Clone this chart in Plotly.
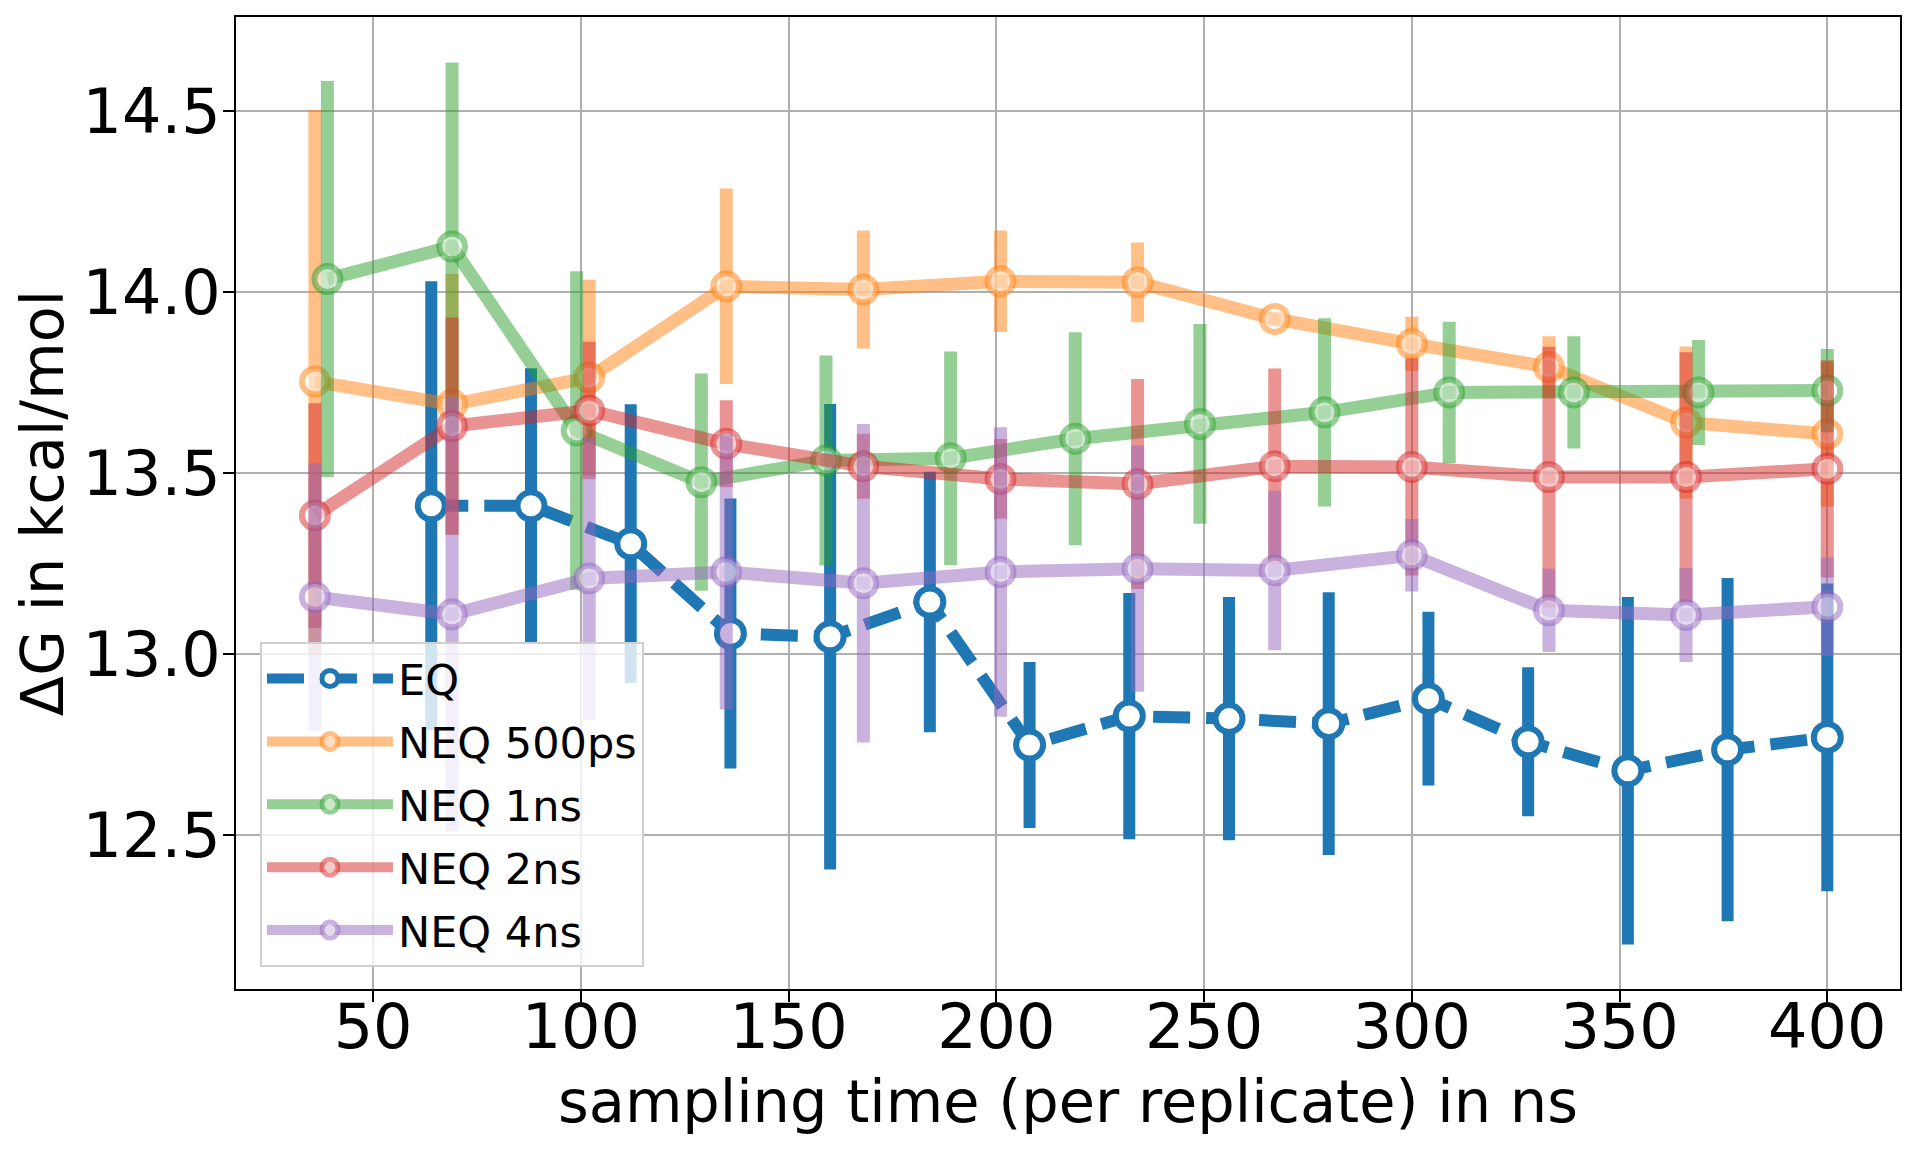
import plotly.graph_objects as go

# ---------------- data ----------------
x_eq = [64, 88, 112, 136, 160, 184, 208, 232, 256, 280, 304, 328, 352, 376, 400]
eq_mean = [13.41, 13.41, 13.305, 13.057, 13.048, 13.144, 12.749, 12.829, 12.822,
           12.808, 12.877, 12.758, 12.678, 12.736, 12.770]
eq_err = [0.62, 0.38, 0.385, 0.373, 0.643, 0.36, 0.229, 0.34, 0.336,
          0.363, 0.24, 0.206, 0.48, 0.474, 0.425]

x_neq = [36, 69, 102, 135, 168, 201, 234, 267, 300, 333, 366, 400]
neq500_mean = [13.753, 13.69, 13.764, 14.016, 14.007, 14.03, 14.027, 13.926,
               13.857, 13.793, 13.64, 13.608]
neq500_err = [0.75, 0.36, 0.27, 0.27, 0.163, 0.14, 0.11, 0.02, 0.075, 0.085, 0.21, 0.2]

x_neq1 = [39, 69, 99, 129, 159, 189, 219, 249, 279, 309, 339, 369, 400]
neq1_mean = [14.036, 14.126, 13.618, 13.475, 13.535, 13.541, 13.595, 13.636,
             13.668, 13.723, 13.723, 13.723, 13.728]
neq1_err = [0.547, 0.508, 0.44, 0.30, 0.29, 0.295, 0.294, 0.276, 0.26,
            0.195, 0.155, 0.145, 0.115]

neq2_mean = [13.383, 13.63, 13.673, 13.581, 13.519, 13.484, 13.47, 13.519,
             13.517, 13.489, 13.489, 13.512]
neq2_err = [0.31, 0.30, 0.19, 0.12, 0.09, 0.11, 0.29, 0.27, 0.30, 0.36, 0.345, 0.30]

neq4_mean = [13.158, 13.11, 13.209, 13.227, 13.196, 13.227, 13.236, 13.231,
             13.273, 13.121, 13.108, 13.131]
neq4_err = [0.37, 0.60, 0.39, 0.38, 0.44, 0.40, 0.34, 0.22, 0.10, 0.115, 0.13, 0.136]

x_ticks = [50, 100, 150, 200, 250, 300, 350, 400]
y_ticks = [12.5, 13.0, 13.5, 14.0, 14.5]
y_tick_labels = ["12.5", "13.0", "13.5", "14.0", "14.5"]

FONT = "DejaVu Sans"

fig = go.Figure()

# EQ (opaque, dashed, open markers)
fig.add_trace(go.Scatter(
    x=x_eq, y=eq_mean, name="EQ", mode="lines+markers",
    legendgroup="g0",
    line=dict(color="#1f77b4", width=12, dash="37px,16px"),
    marker=dict(symbol="circle", size=27, color="white",
                line=dict(color="#1f77b4", width=6)),
    error_y=dict(type="data", array=eq_err, visible=True,
                 color="#1f77b4", thickness=12, width=0),
))

neq = [
    ("NEQ 500ps", x_neq, neq500_mean, neq500_err, (255, 127, 14)),
    ("NEQ 1ns", x_neq1, neq1_mean, neq1_err, (44, 160, 44)),
    ("NEQ 2ns", x_neq, neq2_mean, neq2_err, (214, 39, 40)),
    ("NEQ 4ns", x_neq, neq4_mean, neq4_err, (148, 103, 189)),
]
for i, (name, xs, ys, es, (r, g, b)) in enumerate(neq):
    c = f"rgba({r},{g},{b},0.5)"
    fig.add_trace(go.Scatter(
        x=xs, y=ys, name=name, mode="lines+markers",
        legendgroup=f"g{i+1}",
        line=dict(color=c, width=13),
        marker=dict(symbol="circle", size=26, color="rgba(255,255,255,0.5)",
                    line=dict(color=c, width=6)),
        error_y=dict(type="data", array=es, visible=True,
                     color=c, thickness=13, width=0),
    ))

axis_common = dict(
    showgrid=True, gridcolor="#b0b0b0", gridwidth=2,
    showline=True, linecolor="black", linewidth=2, mirror=True,
    ticks="outside", ticklen=11, tickwidth=2, tickcolor="black",
    zeroline=False,
    tickfont=dict(family=FONT, size=62, color="black"),
)

fig.update_layout(
    width=1912, height=1146,
    margin=dict(l=228, r=20, t=7, b=165),
    paper_bgcolor="white", plot_bgcolor="white",
    font=dict(family=FONT, color="black"),
    showlegend=True,
    legend=dict(
        x=0.0144, y=0.0226, xanchor="left", yanchor="bottom",
        bgcolor="rgba(255,255,255,0.8)", bordercolor="#d0d0d0", borderwidth=2,
        font=dict(family=FONT, size=43, color="black"),
        tracegroupgap=4, itemwidth=126,
    ),
    xaxis=dict(
        range=[17, 417.5], tickvals=x_ticks,
        ticklabelstandoff=-28, automargin=True,
        title=dict(text="sampling time (per replicate) in ns",
                   font=dict(family=FONT, size=59, color="black"), standoff=18),
        **axis_common,
    ),
    yaxis=dict(
        range=[12.075, 14.76], tickvals=y_ticks, ticktext=y_tick_labels,
        ticklabelstandoff=-10, automargin=False,
        title=dict(text="ΔG in kcal/mol",
                   font=dict(family=FONT, size=59, color="black"), standoff=10),
        **axis_common,
    ),
)

fig.write_html("out.html")
